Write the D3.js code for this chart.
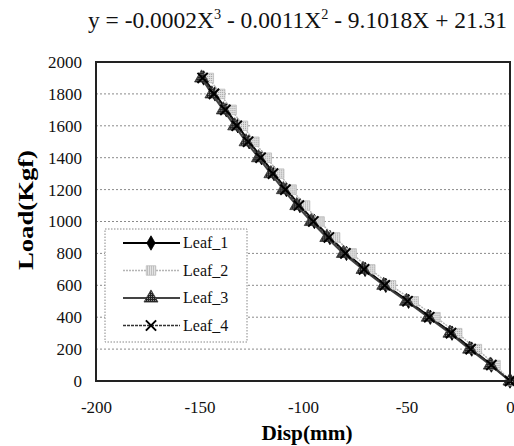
<!DOCTYPE html>
<html lang="en">
<head>
<meta charset="UTF-8">
<title>load-disp</title>
<script src="https://cdn.jsdelivr.net/npm/d3@7"></script>
<style>
  body { margin: 0; background: #fff; }
</style>
</head>
<body>
<script>
// data
let loads = [0, 100, 200, 300, 400, 500, 600, 700, 800, 900, 1000, 1100, 1200, 1300, 1400, 1500, 1600, 1700, 1800, 1900];
let leaf1 = [0, -9, -18.5, -28, -38.5, -49, -60, -70, -79, -87, -94.5, -101.5, -108, -114, -120, -126, -131.5, -137, -142.5, -148];
let leaf2 = [0, -7, -16, -25.5, -36, -46.5, -57.5, -67.5, -76.5, -84.5, -92, -99, -105.5, -111.5, -117.5, -123.5, -129, -134.5, -140, -145.5];
let leaf3 = [0, -9.5, -19.5, -29, -39.5, -50, -61, -71, -80.5, -88.5, -96, -103, -109.5, -115.5, -121.5, -127.5, -133, -138.5, -144, -149];
let leaf4 = [0, -9, -19, -28.5, -39, -49.5, -60.5, -70.5, -79.5, -87.5, -95, -102, -108.5, -114.5, -120.5, -126.5, -132, -137.5, -143, -148.5];
let seriesNames = ['Leaf_1', 'Leaf_2', 'Leaf_3', 'Leaf_4'];
let xTicks = [-200, -150, -100, -50, 0];
let yTicks = [0, 200, 400, 600, 800, 1000, 1200, 1400, 1600, 1800, 2000];

let width = 514, height = 446;
let m = { left: 96, right: 4, top: 62, bottom: 65 };
let serif = 'Liberation Serif, Tinos, DejaVu Serif, serif';

let svg = d3.select('body').append('svg')
  .attr('width', width)
  .attr('height', height)
  .attr('font-family', serif);

let x = d3.scaleLinear().domain([-200, 0]).range([m.left, width - m.right]);
let y = d3.scaleLinear().domain([0, 2000]).range([height - m.bottom, m.top]);

let defs = svg.append('defs');
let pat = defs.append('pattern').attr('id', 'checker')
  .attr('width', 2).attr('height', 2).attr('patternUnits', 'userSpaceOnUse');
pat.append('rect').attr('width', 2).attr('height', 2).attr('fill', '#e4e4e4');
pat.append('rect').attr('width', 1).attr('height', 1).attr('fill', '#999');
let pat2 = defs.append('pattern').attr('id', 'dark')
  .attr('width', 2).attr('height', 2).attr('patternUnits', 'userSpaceOnUse');
pat2.append('rect').attr('width', 2).attr('height', 2).attr('fill', '#222');
pat2.append('rect').attr('width', 1).attr('height', 1).attr('fill', '#888');

// title equation
let title = svg.append('text')
  .attr('x', 88).attr('y', 28)
  .attr('font-size', 23)
  .attr('fill', '#111');
title.append('tspan').text('y = -0.0002X');
title.append('tspan').attr('dy', -9).attr('font-size', 14).text('3');
title.append('tspan').attr('dy', 9).text(' - 0.0011X');
title.append('tspan').attr('dy', -9).attr('font-size', 14).text('2');
title.append('tspan').attr('dy', 9).text(' - 9.1018X + 21.31');
title.attr('textLength', 419).attr('lengthAdjust', 'spacingAndGlyphs');

// gridlines
svg.append('g').selectAll('line')
  .data(yTicks.slice(1, -1))
  .enter().append('line')
  .attr('x1', x(-200)).attr('x2', x(0))
  .attr('y1', d => y(d)).attr('y2', d => y(d))
  .attr('stroke', '#8a8a8a')
  .attr('stroke-width', 1)
  .attr('stroke-dasharray', '2,2');

// axes tick labels
let yAxis = d3.axisLeft(y).tickValues(yTicks).tickFormat(d => String(d)).tickSize(0).tickPadding(14);
let gy = svg.append('g').attr('transform', 'translate(' + x(-200) + ',0)').call(yAxis)
  .attr('font-family', serif).attr('font-size', 17);
gy.select('.domain').remove();
gy.selectAll('text').attr('fill', '#111');

let xAxis = d3.axisBottom(x).tickValues(xTicks).tickFormat(d => String(d)).tickSize(0).tickPadding(20);
let gx = svg.append('g').attr('transform', 'translate(0,' + y(0) + ')').call(xAxis)
  .attr('font-family', serif).attr('font-size', 17);
gx.select('.domain').remove();
gx.selectAll('text').attr('fill', '#111');

// axis titles
svg.append('text')
  .attr('x', 307).attr('y', 440)
  .attr('text-anchor', 'middle')
  .attr('font-size', 20).attr('font-weight', 'bold')
  .attr('textLength', 91).attr('lengthAdjust', 'spacingAndGlyphs')
  .text('Disp(mm)');
svg.append('text')
  .attr('transform', 'translate(33,210) rotate(-90)')
  .attr('text-anchor', 'middle')
  .attr('font-size', 20).attr('font-weight', 'bold')
  .attr('textLength', 120).attr('lengthAdjust', 'spacingAndGlyphs')
  .text('Load(Kgf)');

// series
let styles = [
  { data: leaf1, line: '#000', width: 2, dash: null, sym: d3.symbolDiamond, size: 60, fill: '#000', stroke: '#000' },
  { data: leaf2, line: '#b5b5b5', width: 1.5, dash: '2,1', sym: d3.symbolSquare, size: 90, fill: 'url(#checker)', stroke: '#bbb' },
  { data: leaf3, line: '#444', width: 2, dash: null, sym: d3.symbolTriangle, size: 85, fill: 'url(#dark)', stroke: '#333' },
  { data: leaf4, line: '#333', width: 1.5, dash: '3,1', sym: d3.symbolX, size: 70, fill: 'none', stroke: '#000' }
];

let line = d3.line()
  .x(d => x(d[0]))
  .y(d => y(d[1]));

let plot = svg.append('g');
styles.forEach(function (s, i) {
  let pts = s.data.map((v, j) => [v, loads[j]]);
  plot.append('path')
    .datum(pts)
    .attr('class', 'line')
    .attr('d', line)
    .attr('fill', 'none')
    .attr('stroke', s.line)
    .attr('stroke-width', s.width)
    .attr('stroke-dasharray', s.dash);
  plot.selectAll('path.m' + i)
    .data(pts)
    .enter().append('path')
    .attr('class', 'm' + i)
    .attr('transform', d => 'translate(' + x(d[0]) + ',' + y(d[1]) + ')')
    .attr('d', d3.symbol().type(s.sym).size(s.size))
    .attr('fill', s.fill)
    .attr('stroke', s.stroke)
    .attr('stroke-width', s.sym === d3.symbolX ? 2 : 0.8);
});

// frame
svg.append('rect')
  .attr('x', x(-200)).attr('y', y(2000))
  .attr('width', x(0) - x(-200)).attr('height', y(0) - y(2000))
  .attr('fill', 'none')
  .attr('stroke', '#222')
  .attr('stroke-width', 2);

// legend
let lg = svg.append('g').attr('transform', 'translate(105,229)');
lg.append('rect')
  .attr('width', 142).attr('height', 113)
  .attr('fill', '#fff')
  .attr('stroke', '#888')
  .attr('stroke-dasharray', '1.5,1.5');
styles.forEach(function (s, i) {
  let ly = 14 + i * 27.5;
  lg.append('line')
    .attr('x1', 18).attr('x2', 75).attr('y1', ly).attr('y2', ly)
    .attr('stroke', s.line).attr('stroke-width', s.width)
    .attr('stroke-dasharray', s.dash);
  lg.append('path')
    .attr('transform', 'translate(46,' + ly + ')')
    .attr('d', d3.symbol().type(s.sym).size(s.size)())
    .attr('fill', s.fill)
    .attr('stroke', s.stroke)
    .attr('stroke-width', s.sym === d3.symbolX ? 2 : 0.8);
  lg.append('text')
    .attr('x', 78).attr('y', ly + 5)
    .attr('font-size', 16)
    .attr('fill', '#111')
    .text(seriesNames[i]);
});
</script>
</body>
</html>
